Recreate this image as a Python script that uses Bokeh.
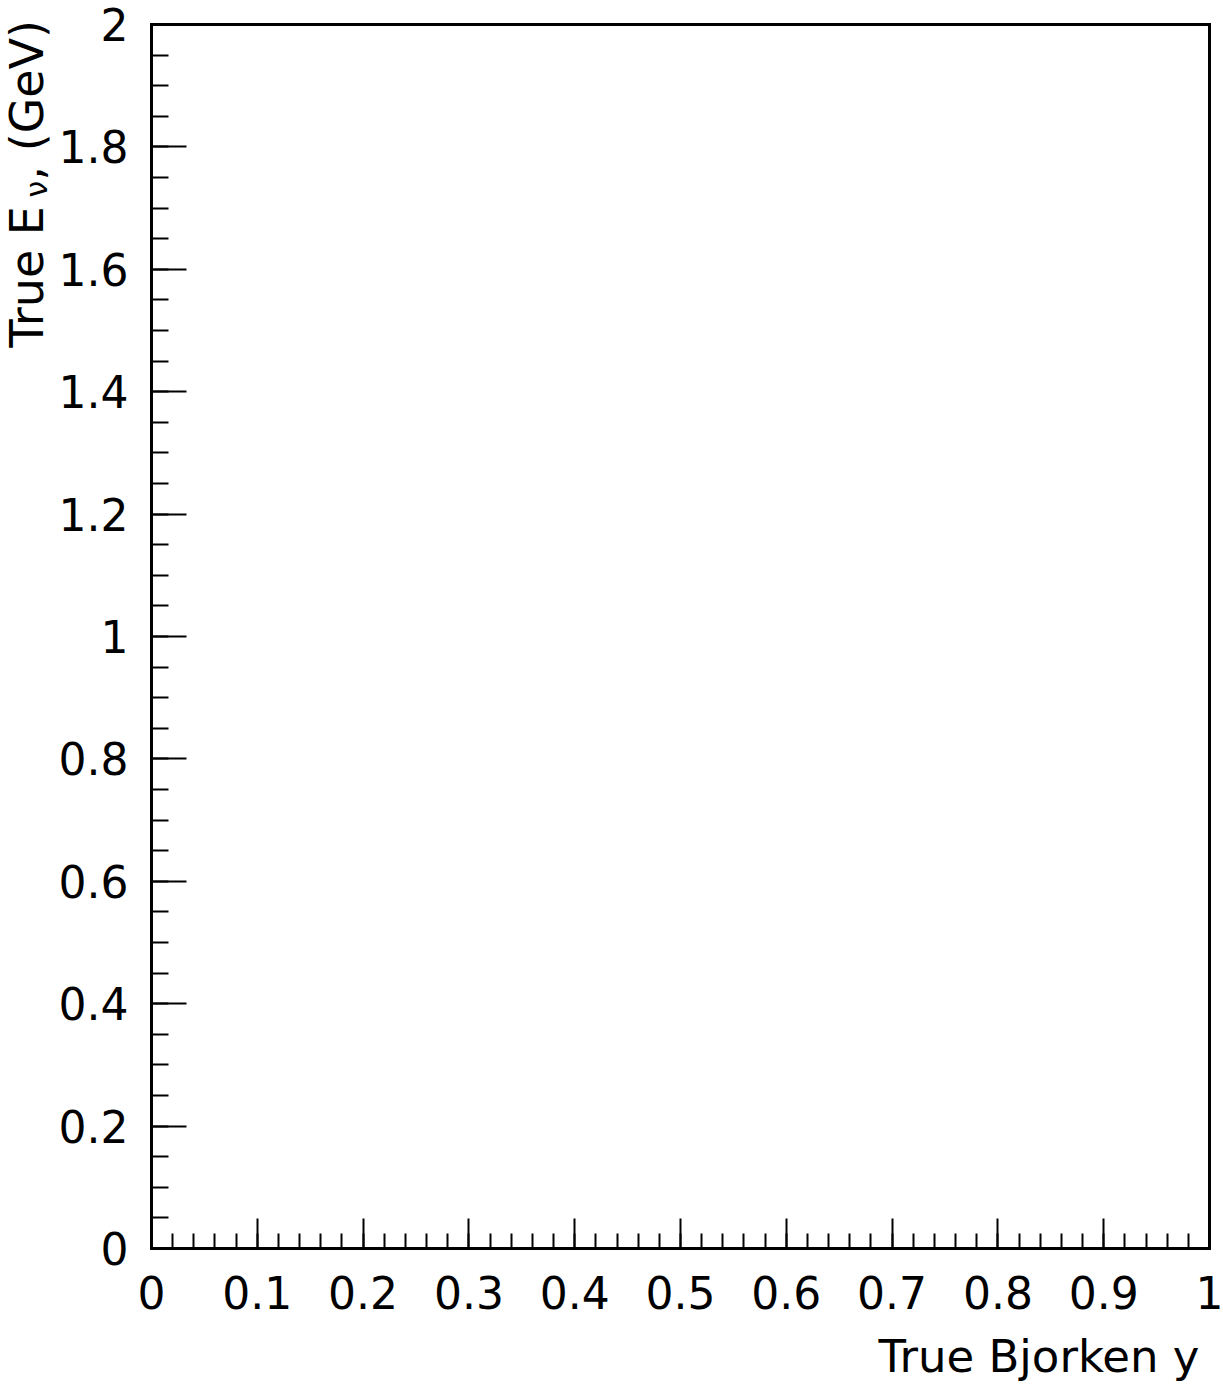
from bokeh.plotting import figure
from bokeh.models import Range1d, FixedTicker, LinearAxis, Label
from bokeh.embed import file_html
from bokeh.resources import INLINE

# ---- axis definitions (empty 2D histogram: no entries) ----
x_ticks = [0.0, 0.1, 0.2, 0.3, 0.4, 0.5, 0.6, 0.7, 0.8, 0.9, 1.0]
x_tick_labels = ["0", "0.1", "0.2", "0.3", "0.4", "0.5", "0.6", "0.7", "0.8", "0.9", "1"]
y_ticks = [0.0, 0.2, 0.4, 0.6, 0.8, 1.0, 1.2, 1.4, 1.6, 1.8, 2.0]
y_tick_labels = ["0", "0.2", "0.4", "0.6", "0.8", "1", "1.2", "1.4", "1.6", "1.8", "2"]
x_minor = [round(0.02 * i, 2) for i in range(51)]
y_minor = [round(0.05 * i, 2) for i in range(41)]
x_lim = (0.0, 1.0)
y_lim = (0.0, 2.0)
x_title = "True Bjorken y"
y_title_parts = ["True E", "\u03bd", ", (GeV)"]

FONT = "DejaVu Sans"
W, H = 1223, 1391
FL, FR, FT, FB = 151, 1209, 24, 1248  # where the axes box sits on the canvas (pixels)

# the plotting area covers the whole canvas; the axes box is drawn by fixed-location axes
xs = (x_lim[1] - x_lim[0]) / (FR - FL)
ys = (y_lim[1] - y_lim[0]) / (FB - FT)
x_range = Range1d(x_lim[0] - FL * xs, x_lim[1] + (W - FR) * xs)
y_range = Range1d(y_lim[0] - (H - FB) * ys, y_lim[1] + FT * ys)

p = figure(width=W, height=H, x_range=x_range, y_range=y_range,
           output_backend="svg", toolbar_location=None, min_border=0,
           background_fill_color="white", border_fill_color="white",
           outline_line_color=None)
p.xgrid.visible = False
p.ygrid.visible = False

xa = p.xaxis[0]
xa.fixed_location = y_lim[0]
xa.bounds = x_lim
xa.ticker = FixedTicker(ticks=x_ticks, minor_ticks=x_minor)
xa.major_label_overrides = dict(zip(x_ticks, x_tick_labels))
xa.major_tick_in = 30
xa.major_tick_out = 0
xa.minor_tick_in = 15
xa.minor_tick_out = 0
xa.major_label_standoff = 27

ya = p.yaxis[0]
ya.fixed_location = x_lim[0]
ya.bounds = y_lim
ya.ticker = FixedTicker(ticks=y_ticks, minor_ticks=y_minor)
ya.major_label_overrides = dict(zip(y_ticks, y_tick_labels))
ya.major_tick_in = 35
ya.major_tick_out = 0
ya.minor_tick_in = 17
ya.minor_tick_out = 0
ya.major_label_standoff = 23

# top and right sides of the box (no ticks)
top = LinearAxis(fixed_location=y_lim[1], bounds=x_lim, ticker=FixedTicker(ticks=[]),
                 major_label_text_color=None)
right = LinearAxis(fixed_location=x_lim[1], bounds=y_lim, ticker=FixedTicker(ticks=[]),
                   major_label_text_color=None)
p.add_layout(top, "above")
p.add_layout(right, "right")

for ax in (xa, ya, top, right):
    ax.axis_line_width = 3
    ax.axis_line_color = "black"
    ax.axis_line_cap = "square"
    ax.major_tick_line_width = 2
    ax.minor_tick_line_width = 2
    ax.major_tick_line_color = "black"
    ax.minor_tick_line_color = "black"
    ax.major_label_text_font = FONT
    ax.major_label_text_font_size = "44px"
for ax in (xa, ya):
    ax.major_label_text_color = "black"

# x title, right aligned under the axis
p.add_layout(Label(x=1199, y=H - 1356, x_units="screen", y_units="screen",
                   text=x_title, text_font=FONT, text_font_size="45px",
                   text_color="black", text_align="right", text_baseline="alphabetic"))

# y title: "True E" + subscript nu + ", (GeV)", reading upward
ang = 3.141592653589793 / 2
for txt, px, py, size in ((y_title_parts[0], 26, 347, "46px"),
                          (y_title_parts[1], 36, 197, "30px"),
                          (y_title_parts[2], 26, 180, "46px")):
    p.add_layout(Label(x=px, y=H - py, x_units="screen", y_units="screen",
                       text=txt, angle=ang, text_font=FONT, text_font_size=size,
                       text_color="black", text_align="left",
                       text_baseline="alphabetic"))

open("out.html", "w").write(file_html(p, INLINE))
